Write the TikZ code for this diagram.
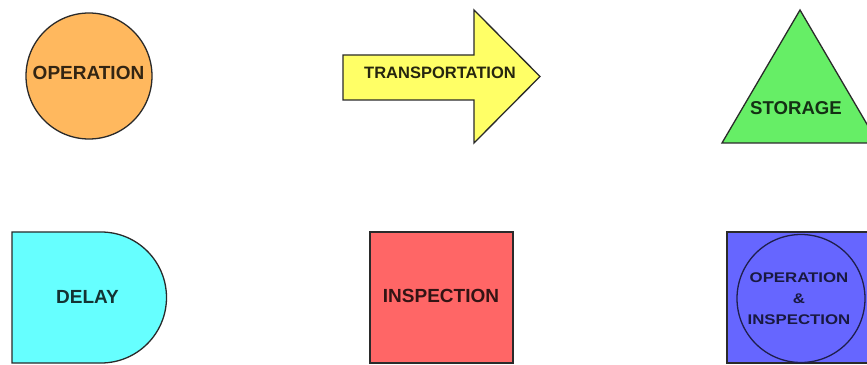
\documentclass[tikz,border=0pt]{standalone}
\usepackage{fontspec}
\setmainfont{Liberation Sans}
\definecolor{opfill}{HTML}{FFB85E}
\definecolor{trfill}{HTML}{FFFF66}
\definecolor{stfill}{HTML}{66EE66}
\definecolor{dlfill}{HTML}{66FFFF}
\definecolor{infill}{HTML}{FF6666}
\definecolor{oifill}{HTML}{6666FF}
\definecolor{edge}{HTML}{2A2A2A}
\tikzset{
  shapeline/.style={draw=edge, line width=1.3pt, line join=miter},
  lbl/.style={inner sep=0pt, font=\bfseries},
}
\begin{document}
\begin{tikzpicture}[x=1pt,y=1pt]
\useasboundingbox (0,0) rectangle (867,364);
\clip (0,0) rectangle (867,364);
\fill[white] (0,0) rectangle (867,364);
% operation
\filldraw[shapeline, fill=opfill] (89,288) circle (63);
\node[lbl, text=black!80!opfill, font=\bfseries\fontsize{19}{22}\selectfont] (op) at (88.5,291) {OPERATION};
% transportation
\filldraw[shapeline, fill=trfill] (343,309) -- (474,309) -- (474,354) -- (540,287.5) -- (474,221) -- (474,264) -- (343,264) -- cycle;
\node[lbl, text=black!85!trfill, font=\bfseries\fontsize{16.5}{20}\selectfont] (tr) at (440,291) {TRANSPORTATION};
% storage
\filldraw[shapeline, fill=stfill] (800,354) -- (878,221) -- (722,221) -- cycle;
\node[lbl, text=black!80!stfill, font=\bfseries\fontsize{18.6}{22}\selectfont] (st) at (796,256) {STORAGE};
% delay
\filldraw[shapeline, fill=dlfill] (12,132) -- (101,132) arc (90:-90:65.5) -- (12,1) -- cycle;
\node[lbl, text=black!80!dlfill, font=\bfseries\fontsize{19}{22}\selectfont] (dl) at (87.5,67) {DELAY};
% inspection
\filldraw[shapeline, fill=infill] (370,1) rectangle (513,132);
\node[lbl, text=black!80!infill, font=\bfseries\fontsize{19}{22}\selectfont] (in) at (441,68) {INSPECTION};
% operation & inspection
\filldraw[shapeline, fill=oifill] (727,1) rectangle (871,132);
\draw[draw=black!70!oifill, line width=1.3pt] (801,65.5) circle (64);
\node[lbl, text=black!75!oifill, align=center, xscale=1.2, font=\bfseries\fontsize{14}{21}\selectfont] (oi) at (799,65) {OPERATION\\\&\\INSPECTION};
\end{tikzpicture}
\end{document}
